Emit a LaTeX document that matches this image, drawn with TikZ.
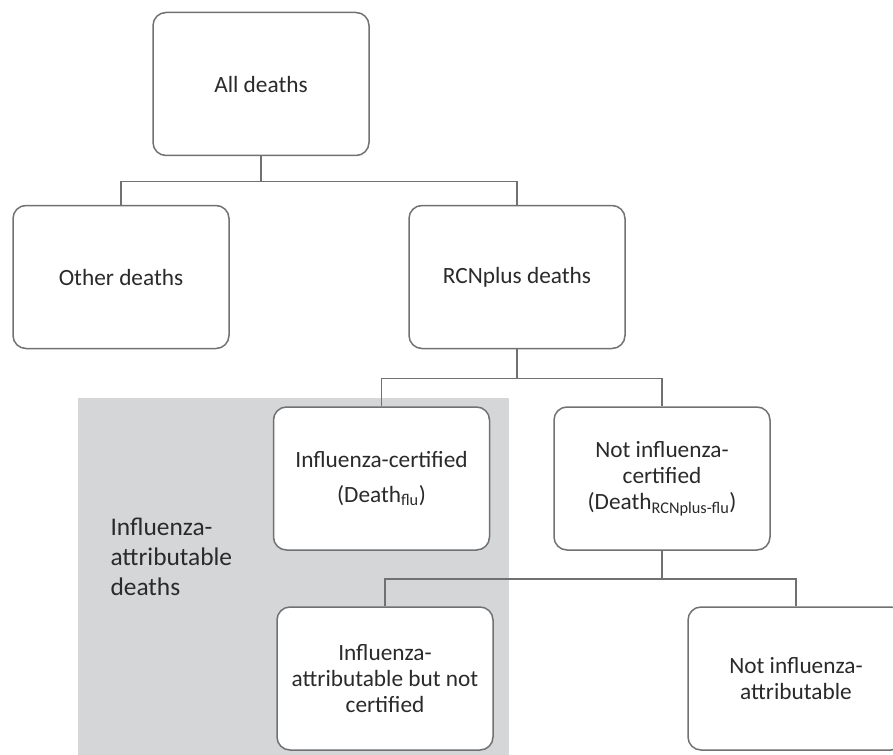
\documentclass[tikz,border=0pt]{standalone}
\usepackage{fontspec}
\setmainfont{Carlito}
\definecolor{boxline}{HTML}{707173}
\definecolor{greybg}{HTML}{D5D6D8}
\definecolor{txt}{HTML}{2A2A2A}
\begin{document}
\begin{tikzpicture}[x=1pt,y=-1pt,
  box/.style={draw=boxline, line width=1.5pt, rounded corners=13pt, fill=white,
    minimum width=216pt, minimum height=143pt, inner sep=0pt, align=center,
    text=txt, font=\fontsize{23.3}{26}\selectfont},
  link/.style={draw=boxline, line width=1.5pt}]
\useasboundingbox (0,0) rectangle (893,754);
\clip (0,0) rectangle (893,754);
\fill[greybg] (78,398) rectangle (509,760);
\node[anchor=west, align=left, text=txt, font=\fontsize{25.4}{30}\selectfont] (lbl) at (107,557) {Influenza-\\attributable\\deaths};
\node[box] (all) at (261,84) {All deaths};
\node[box] (other) at (121,277) {Other deaths};
\node[box] (rcn) at (517,277) {RCNplus deaths};
\node[box] (cert) at (381.5,478.5) {Influenza-certified\\[9pt](Death\textsubscript{flu})};
\node[box] (notcert) at (662,478.5) {Not influenza-\\certified\\(Death\textsubscript{RCNplus-flu})};
\node[box] (attr) at (385,678.5) {Influenza-\\attributable but not\\certified};
\node[box] (notattr) at (796,678.5) {Not influenza-\\attributable};
\draw[link] (all.south) -- ++(0,25) -| (other.north);
\draw[link] (all.south) -- ++(0,25) -| (rcn.north);
\draw[link] (rcn.south) -- ++(0,29) -| (cert.north);
\draw[link] (rcn.south) -- ++(0,29) -| (notcert.north);
\draw[link] (notcert.south) -- ++(0,28) -| (attr.north);
\draw[link] (notcert.south) -- ++(0,28) -| (notattr.north);
\end{tikzpicture}
\end{document}
